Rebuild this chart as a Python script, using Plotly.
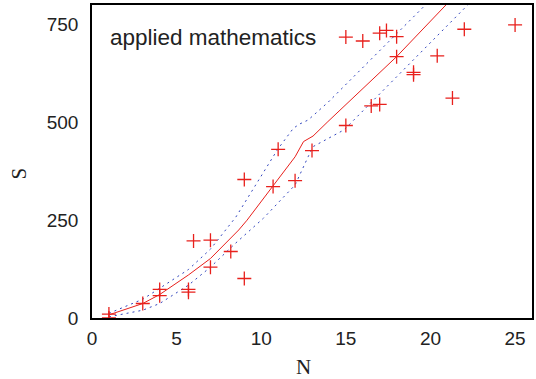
import plotly.graph_objects as go

# Observed data points
n_obs = [1, 1, 3, 4, 4, 5.7, 5.7, 6, 7, 7, 8.2, 9, 9, 10.7, 11, 12, 13, 15, 15, 16, 16.5,
         17, 17, 17.4, 18, 18, 19, 19, 20.4, 21.3, 22, 25]
s_obs = [10, 0, 37, 73, 57, 73, 66, 197, 199, 130, 170, 101, 354, 336, 431, 351, 428, 492, 718, 708, 542,
         728, 546, 735, 719, 668, 622, 628, 670, 562, 738, 749]

# Fitted curve
n_fit = [1, 3, 4, 5.7, 7, 8.67, 9.16, 10.68, 12, 12.5, 13.06, 13.94, 15.3, 18, 21.0]
s_fit = [8, 37, 60, 110, 152, 225, 250, 336, 412, 451, 465, 502, 557, 668, 804]

# Upper confidence band
n_up = [1, 3, 4, 5.7, 7, 8.5, 10.97, 11.9, 12.28, 12.77, 13.94, 19.7]
s_up = [12, 48, 76, 124, 176, 258, 431, 485, 496, 506, 551, 800]

# Lower confidence band
n_lo = [1, 3, 4, 5.7, 7, 8.48, 10.13, 12, 12.77, 13.06, 14.9, 16.48, 22.2]
s_lo = [3, 20, 37, 84, 130, 191, 255, 340, 412, 438, 481, 550, 800]

x_ticks = [0, 5, 10, 15, 20, 25]
y_ticks = [0, 250, 500, 750]

red = "rgb(232,32,28)"
blue = "rgb(50,70,190)"
serif = "Liberation Serif, Times New Roman"
sans = "Liberation Sans, Arial"

fig = go.Figure()
fig.add_trace(go.Scatter(x=n_up, y=s_up, mode="lines",
                         line=dict(color=blue, width=1, dash="2px,4px")))
fig.add_trace(go.Scatter(x=n_lo, y=s_lo, mode="lines",
                         line=dict(color=blue, width=1, dash="2px,4px")))
fig.add_trace(go.Scatter(x=n_fit, y=s_fit, mode="lines",
                         line=dict(color=red, width=1)))
fig.add_trace(go.Scatter(x=n_obs, y=s_obs, mode="markers",
                         marker=dict(symbol="cross-thin", size=10,
                                     line=dict(color=red, width=1.3))))

axis_common = dict(showgrid=False, zeroline=False, showline=True, mirror=True,
                   linecolor="black", linewidth=1.5, ticks="",
                   tickfont=dict(family=sans, size=19, color="#222"))

fig.update_xaxes(range=[0, 26], tickvals=x_ticks, ticklabelstandoff=2, **axis_common)
fig.update_yaxes(range=[0, 800], tickvals=y_ticks, ticklabelstandoff=8, **axis_common)

fig.add_annotation(text="N", xref="paper", yref="paper", x=0.48, y=-0.157,
                   xanchor="center", yanchor="middle", showarrow=False,
                   font=dict(family=serif, size=21, color="#222"))
fig.add_annotation(text="S", xref="paper", yref="paper", x=-0.165, y=0.463,
                   xanchor="center", yanchor="middle", showarrow=False, textangle=-90,
                   font=dict(family=serif, size=21, color="#222"))

fig.add_annotation(text="applied mathematics", xref="paper", yref="paper",
                   x=0.036, y=0.895, xanchor="left", yanchor="middle", showarrow=False,
                   font=dict(family=sans, size=22.5, color="#222"))

fig.update_layout(width=536, height=379, showlegend=False,
                  plot_bgcolor="white", paper_bgcolor="white",
                  margin=dict(l=92, r=2, t=5, b=61))

fig.write_html("out.html")
